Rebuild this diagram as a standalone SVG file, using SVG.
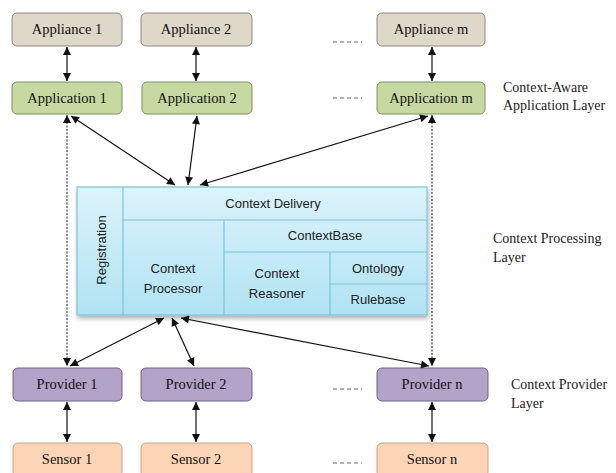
<svg xmlns="http://www.w3.org/2000/svg" width="616" height="473" viewBox="0 0 616 473">
<defs>
<marker id="ah" viewBox="0 0 10 10" refX="10" refY="5" markerWidth="9" markerHeight="8" markerUnits="userSpaceOnUse" orient="auto-start-reverse">
<path d="M0,0 L10,5 L0,10 z" fill="#111"/>
</marker>
<linearGradient id="cg" x1="0" y1="0" x2="0" y2="1">
<stop offset="0" stop-color="#dcf3fb"/>
<stop offset="1" stop-color="#b0e3f3"/>
</linearGradient>
<filter id="sh" x="-5%" y="-5%" width="110%" height="115%">
<feDropShadow dx="1" dy="3" stdDeviation="2" flood-color="#000" flood-opacity="0.3"/>
</filter>
<style>
.n{stroke-width:1}
.app{fill:#ddd8c7;stroke:#8c8a80}
.apl{fill:#c5d9a0;stroke:#7d9160}
.prv{fill:#b3a3c8;stroke:#6f6386}
.sen{fill:#fbd5b5;stroke:#c9a586}
.t{font-family:"Liberation Serif","Times New Roman",serif;font-size:14.5px;fill:#111;text-anchor:middle}
.lt{font-family:"Liberation Serif","Times New Roman",serif;font-size:14px;fill:#222}
.c{font-family:"Liberation Sans",Arial,sans-serif;font-size:13px;fill:#222;text-anchor:middle}
.ln{stroke:#111;stroke-width:1.2;fill:none}
.dl{stroke:#444;stroke-width:1.2;fill:none;stroke-dasharray:2,1.5}
.dash{stroke:#666;stroke-width:1;stroke-dasharray:4,3}
.in{stroke:#7cc3d6;stroke-width:1.2;fill:none}
</style>
</defs>
<rect width="616" height="473" fill="#fff"/>

<g id="appliance1"><rect class="n app" x="12" y="13" width="110" height="33" rx="5"/><text class="t" x="67" y="34">Appliance 1</text></g>
<g id="appliance2"><rect class="n app" x="141" y="13" width="111" height="33" rx="5"/><text class="t" x="196" y="34">Appliance 2</text></g>
<g id="appliancem"><rect class="n app" x="377" y="13" width="108" height="33" rx="5"/><text class="t" x="431" y="34">Appliance m</text></g>

<g id="application1"><rect class="n apl" x="12" y="82" width="110" height="32" rx="5"/><text class="t" x="67" y="103">Application 1</text></g>
<g id="application2"><rect class="n apl" x="142" y="82" width="110" height="32" rx="5"/><text class="t" x="197" y="103">Application 2</text></g>
<g id="applicationm"><rect class="n apl" x="377" y="82" width="108" height="32" rx="5"/><text class="t" x="431" y="103">Application m</text></g>

<g id="provider1"><rect class="n prv" x="13" y="368" width="109" height="33" rx="5"/><text class="t" x="67" y="389">Provider 1</text></g>
<g id="provider2"><rect class="n prv" x="141" y="368" width="111" height="33" rx="5"/><text class="t" x="196" y="389">Provider 2</text></g>
<g id="providern"><rect class="n prv" x="377" y="368" width="111" height="33" rx="5"/><text class="t" x="432" y="389">Provider n</text></g>

<g id="sensor1"><rect class="n sen" x="13" y="443" width="109" height="34" rx="5"/><text class="t" x="67" y="464">Sensor 1</text></g>
<g id="sensor2"><rect class="n sen" x="141" y="443" width="111" height="34" rx="5"/><text class="t" x="196" y="464">Sensor 2</text></g>
<g id="sensorn"><rect class="n sen" x="377" y="443" width="111" height="34" rx="5"/><text class="t" x="432" y="464">Sensor n</text></g>

<g id="processing">
<rect x="77" y="187" width="350" height="128" fill="url(#cg)" stroke="#7cc3d6" stroke-width="1.2" filter="url(#sh)"/>
<path class="in" d="M123,187 V315 M123,220 H427 M224,220 V315 M224,252 H427 M330,252 V315 M330,284 H427"/>
<text class="c" transform="translate(101,250) rotate(-90)" dominant-baseline="central">Registration</text>
<text class="c" x="273" y="208">Context Delivery</text>
<text class="c" x="325" y="240">ContextBase</text>
<text class="c" x="173" y="273">Context</text>
<text class="c" x="173" y="293">Processor</text>
<text class="c" x="277" y="278">Context</text>
<text class="c" x="277" y="298">Reasoner</text>
<text class="c" x="378" y="273">Ontology</text>
<text class="c" x="378" y="304">Rulebase</text>
</g>

<g id="labels">
<text class="lt" x="503" y="92">Context-Aware</text>
<text class="lt" x="503" y="110">Application Layer</text>
<text class="lt" x="493" y="243">Context Processing</text>
<text class="lt" x="493" y="262">Layer</text>
<text class="lt" x="511" y="389">Context Provider</text>
<text class="lt" x="511" y="408">Layer</text>
<path class="dash" d="M333,42 H362 M333,98 H362 M333,389 H362 M333,463 H362"/>
</g>

<g id="connectors">
<line class="ln" x1="67" y1="47" x2="67" y2="81" marker-start="url(#ah)" marker-end="url(#ah)"/>
<line class="ln" x1="196" y1="47" x2="196" y2="81" marker-start="url(#ah)" marker-end="url(#ah)"/>
<line class="ln" x1="432" y1="47" x2="432" y2="81" marker-start="url(#ah)" marker-end="url(#ah)"/>
<line class="ln" x1="67" y1="402" x2="67" y2="442" marker-start="url(#ah)" marker-end="url(#ah)"/>
<line class="ln" x1="196" y1="402" x2="196" y2="442" marker-start="url(#ah)" marker-end="url(#ah)"/>
<line class="ln" x1="432" y1="402" x2="432" y2="442" marker-start="url(#ah)" marker-end="url(#ah)"/>
<line class="dl" x1="67" y1="115" x2="67" y2="366" marker-start="url(#ah)" marker-end="url(#ah)"/>
<line class="dl" x1="432" y1="115" x2="432" y2="366" marker-start="url(#ah)" marker-end="url(#ah)"/>
<line class="ln" x1="71" y1="116" x2="175" y2="185" marker-start="url(#ah)" marker-end="url(#ah)"/>
<line class="ln" x1="197" y1="116" x2="188" y2="185" marker-start="url(#ah)" marker-end="url(#ah)"/>
<line class="ln" x1="428" y1="116" x2="200" y2="185" marker-start="url(#ah)" marker-end="url(#ah)"/>
<line class="ln" x1="70" y1="366" x2="164" y2="318" marker-start="url(#ah)" marker-end="url(#ah)"/>
<line class="ln" x1="194" y1="366" x2="172" y2="318" marker-start="url(#ah)" marker-end="url(#ah)"/>
<line class="ln" x1="429" y1="366" x2="181" y2="318" marker-start="url(#ah)" marker-end="url(#ah)"/>
</g>
</svg>
